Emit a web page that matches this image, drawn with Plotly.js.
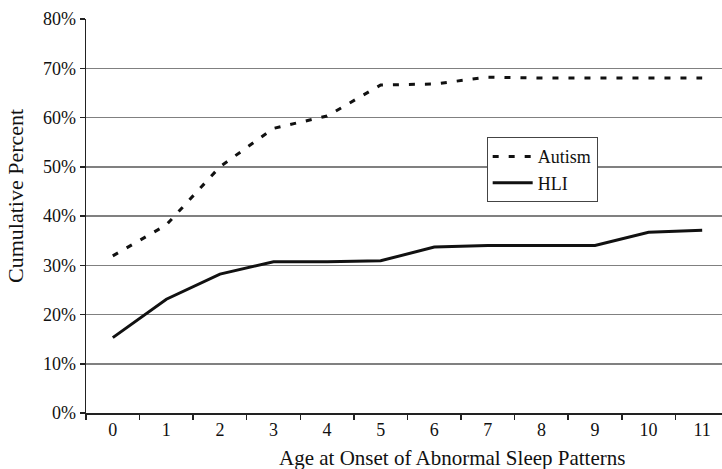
<!DOCTYPE html>
<html>
<head>
<meta charset="utf-8">
<script src="https://cdn.plot.ly/plotly-3.0.1.min.js"></script>
<style>
html,body{margin:0;padding:0;background:#fff;}
#chart{width:722px;height:469px;}
</style>
</head>
<body>
<div id="chart"></div>
<script>
var ages = ["0","1","2","3","4","5","6","7","8","9","10","11"];
var autism = [31.9, 38.2, 50.0, 57.8, 60.3, 66.6, 66.8, 68.2, 68.0, 68.0, 68.0, 68.0];
var hli = [15.3, 23.1, 28.2, 30.7, 30.7, 30.9, 33.7, 34.0, 34.0, 34.0, 36.7, 37.1];
var yTicks = [0, 10, 20, 30, 40, 50, 60, 70, 80];
var xTitle = "Age at Onset of Abnormal Sleep Patterns";
var yTitle = "Cumulative Percent";

var fam = "Liberation Serif, Times New Roman, serif";
function f(size){ return {family: fam, size: size, color: "#111"}; }

var traces = [
  {x: ages, y: autism, name: "Autism", type: "scatter", mode: "lines",
   line: {color: "#111", width: 3, dash: "6px,10px"}},
  {x: ages, y: hli, name: "HLI", type: "scatter", mode: "lines",
   line: {color: "#111", width: 3}}
];

var layout = {
  width: 722, height: 469,
  margin: {l: 86, r: 0, t: 19, b: 56},
  paper_bgcolor: "#fff", plot_bgcolor: "#fff",
  font: f(18),
  showlegend: true,
  legend: {
    x: 0.63, y: 0.70, xanchor: "left", yanchor: "top",
    bordercolor: "#444", borderwidth: 1, bgcolor: "#fff",
    font: f(18),
    tracegroupgap: 0, itemwidth: 40
  },
  xaxis: {
    type: "category",
    range: [-0.5, 11.37],
    tickson: "boundaries",
    ticks: "outside", ticklen: 5, tickwidth: 1.5, tickcolor: "#222",
    showline: true, linecolor: "#222", linewidth: 1.5,
    showgrid: false, zeroline: false,
    tickfont: f(18)
  },
  yaxis: {
    range: [0, 80],
    tickvals: yTicks,
    ticktext: yTicks.map(function(v){return v + "%";}),
    ticks: "outside", ticklen: 5, tickwidth: 1.5, tickcolor: "#222",
    showline: true, linecolor: "#222", linewidth: 1.5,
    showgrid: true, gridcolor: "#808080", gridwidth: 1.5,
    zeroline: false,
    tickfont: f(18)
  },
  annotations: [
    {text: xTitle, xref: "paper", yref: "paper", x: (452-86)/636, y: -(458-413)/394,
     xanchor: "center", yanchor: "middle", showarrow: false, font: f(21)},
    {text: yTitle, xref: "paper", yref: "paper", x: -(86-16)/636, y: (413-196)/394,
     xanchor: "center", yanchor: "middle", showarrow: false, textangle: -90, font: f(22)}
  ]
};

Plotly.newPlot("chart", traces, layout, {displayModeBar: false, staticPlot: true});
</script>
</body>
</html>
